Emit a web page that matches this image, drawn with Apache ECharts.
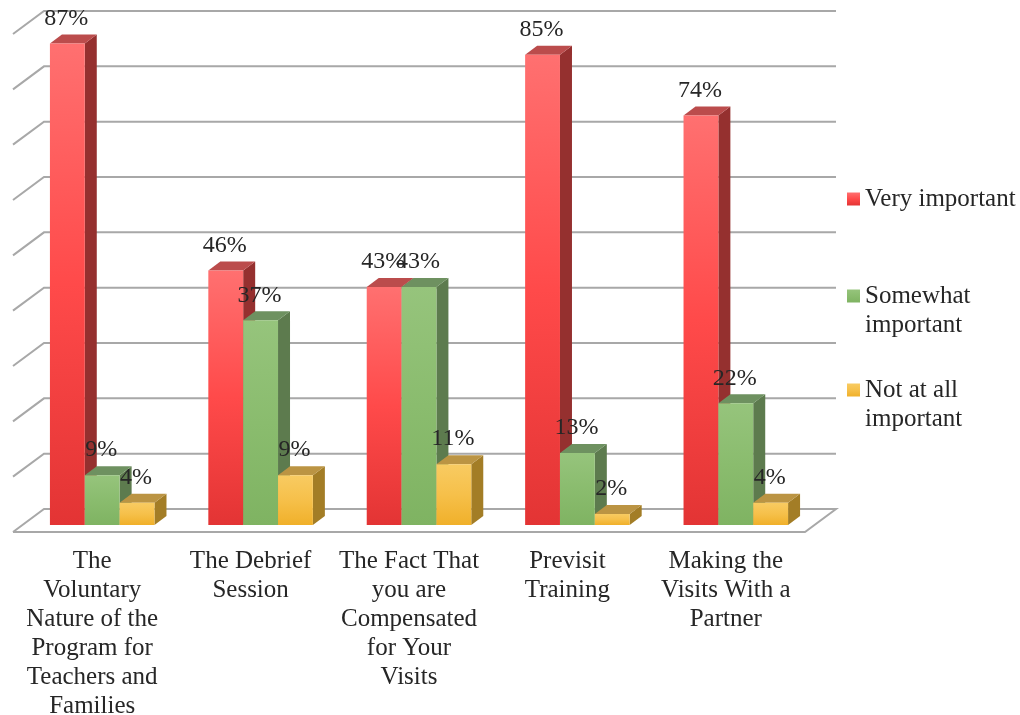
<!DOCTYPE html>
<html>
<head>
<meta charset="utf-8">
<script src="https://cdn.jsdelivr.net/npm/echarts@6/dist/echarts.min.js"></script>
<style>html,body{margin:0;padding:0;background:#fff}#c{width:1020px;height:715px}</style>
</head>
<body>
<div id="c"></div>
<script>
var categories = [
  "The\nVoluntary\nNature of the\nProgram for\nTeachers and\nFamilies",
  "The Debrief\nSession",
  "The Fact That\nyou are\nCompensated\nfor Your\nVisits",
  "Previsit\nTraining",
  "Making the\nVisits With a\nPartner"
];
var veryImportant = [87, 46, 43, 85, 74];
var somewhatImportant = [9, 37, 43, 13, 22];
var notAtAllImportant = [4, 9, 11, 2, 4];
var gridTicks = [0, 10, 20, 30, 40, 50, 60, 70, 80, 90];

var FONT = '"Liberation Serif", serif';
var TXT = '#262626';
var chart = echarts.init(document.getElementById('c'), null, {renderer: 'canvas'});

function grad(a, b, c) {
  return new echarts.graphic.LinearGradient(0, 0, 0, 1, [
    {offset: 0, color: a}, {offset: 0.5, color: b}, {offset: 1, color: c}
  ]);
}
var palettes = [
  {front: grad('#FF7070', '#FF4A4A', '#E33434'), top: '#BB4C4C', side: '#95302F'},
  {front: grad('#96C47C', '#8ABC6E', '#7FB362'), top: '#6E9160', side: '#5D7B4E'},
  {front: grad('#F8CB62', '#F6C04A', '#F0B02A'), top: '#BB9443', side: '#A37D26'}
];

function barSeries(name, values, idx) {
  var p = palettes[idx];
  return {
    name: name,
    type: 'custom',
    coordinateSystem: 'cartesian2d',
    itemStyle: {color: p.front},
    encode: {x: 0, y: 1},
    data: values.map(function (v, i) { return [i, v]; }),
    renderItem: function (params, api) {
      var band = api.size([1, 0])[0];
      var w = band * 0.22;
      var top = api.coord([api.value(0), api.value(1)]);
      var base = api.coord([api.value(0), 0]);
      var x0 = top[0] - 1.5 * w + idx * w;
      var x1 = x0 + w;
      var dx = 12, dy = -9;
      return {
        type: 'group',
        children: [
          {type: 'polygon', shape: {points: [[x1, top[1]], [x1 + dx, top[1] + dy], [x1 + dx, base[1] + dy], [x1, base[1]]]}, style: {fill: p.side}},
          {type: 'polygon', shape: {points: [[x0, top[1]], [x0 + dx, top[1] + dy], [x1 + dx, top[1] + dy], [x1, top[1]]]}, style: {fill: p.top}},
          {type: 'rect', shape: {x: x0, y: top[1], width: w, height: base[1] - top[1]}, style: {fill: p.front}},
          {type: 'text', z2: 100, style: {text: api.value(1) + '%', x: x0 + w / 2 - 1, y: top[1] - 25, align: 'center', verticalAlign: 'middle', font: '24px ' + FONT, fill: TXT}}
        ]
      };
    }
  };
}

var wallSeries = {
  type: 'custom',
  coordinateSystem: 'cartesian2d',
  silent: true,
  encode: {y: 1},
  data: gridTicks.map(function (t) { return [0, t]; }),
  renderItem: function (params, api) {
    var r = params.coordSys;
    var v = api.value(1);
    var y = api.coord([0, v])[1];
    var left = r.x, right = r.x + r.width;
    var ls = {stroke: '#A8A8A8', lineWidth: 2, fill: null};
    var pts = [[left - 10, y + 7], [left + 21, y - 16], [right + 21, y - 16]];
    if (v === 0) {
      pts.push([right - 10, y + 7]);
      pts.push([left - 10, y + 7]);
    }
    return {type: 'polyline', shape: {points: pts}, style: ls};
  }
};

function legendFor(name, top, text) {
  return {
    show: true, orient: 'vertical', left: 847, top: top, data: [name], selectedMode: false,
    icon: 'rect', itemWidth: 13, itemHeight: 13, itemGap: 0,
    padding: 0,
    formatter: function () { return text; },
    textStyle: {fontFamily: FONT, fontSize: 25, lineHeight: 29, color: TXT}
  };
}

chart.setOption({
  animation: false,
  backgroundColor: '#ffffff',
  grid: {left: 23, width: 792, top: 27, height: 498, containLabel: false, outerBoundsMode: 'none'},
  xAxis: {
    type: 'category', data: categories,
    axisLine: {show: false}, axisTick: {show: false}, splitLine: {show: false},
    axisLabel: {interval: 0, margin: 22, fontFamily: FONT, fontSize: 25, lineHeight: 29, color: TXT, padding: [0, 20, 0, 0]}
  },
  yAxis: {type: 'value', min: 0, max: 90, interval: 10, show: false},
  legend: [
    legendFor('Very important', 184.5, 'Very important'),
    legendFor('Somewhat important', 252.5, '\nSomewhat\nimportant'),
    legendFor('Not at all important', 346.5, '\nNot at all\nimportant')
  ],
  series: [
    wallSeries,
    barSeries('Very important', veryImportant, 0),
    barSeries('Somewhat important', somewhatImportant, 1),
    barSeries('Not at all important', notAtAllImportant, 2)
  ]
});
</script>
</body>
</html>
